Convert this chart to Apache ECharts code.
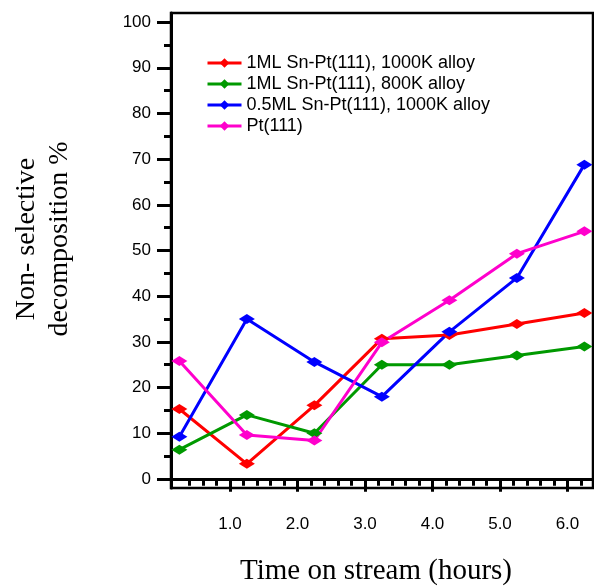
<!DOCTYPE html>
<html>
<head>
<meta charset="utf-8">
<script src="https://cdn.jsdelivr.net/npm/echarts@6/dist/echarts.min.js"></script>
<style>
  html, body { margin: 0; padding: 0; background: #fff; }
  #chart { width: 594px; height: 586px; }
</style>
</head>
<body>
<div id="chart"></div>
<script>
// time on stream (hours)
const hours = [0.25, 1.25, 2.25, 3.25, 4.25, 5.25, 6.25];
const sn1ml1000K = [15.3, 3.3, 16.1, 30.7, 31.5, 33.9, 36.3];
const sn1ml800K = [6.4, 14.0, 10.0, 25.0, 25.0, 27.0, 29.0];
const sn05ml1000K = [9.2, 35.0, 25.6, 18.0, 32.2, 44.0, 68.8];
const pt111 = [25.8, 9.6, 8.4, 29.9, 39.1, 49.3, 54.2];

const seriesNames = ["1ML Sn-Pt(111), 1000K alloy", "1ML Sn-Pt(111), 800K alloy", "0.5ML Sn-Pt(111), 1000K alloy", "Pt(111)"];
const seriesColors = ["#ff0000", "#009900", "#0000ff", "#ff00cc"];
const seriesData = [sn1ml1000K, sn1ml800K, sn05ml1000K, pt111];

const xMajorTicks = [1, 2, 3, 4, 5, 6];
const xMinorTicks = [0.4, 0.6, 0.8, 1.2, 1.4, 1.6, 1.8, 2.2, 2.4, 2.6, 2.8, 3.2, 3.4, 3.6, 3.8, 4.2, 4.4, 4.6, 4.8, 5.2, 5.4, 5.6, 5.8, 6.2];
const yMajorTicks = [0, 10, 20, 30, 40, 50, 60, 70, 80, 90, 100];
const yMinorTicks = [5, 15, 25, 35, 45, 55, 65, 75, 85, 95];

const chart = echarts.init(document.getElementById("chart"));

const xMin = 0.126, xMax = 6.378;
const yMin = -2, yMax = 102;

function makeSeries(i) {
  let points = [];
  for (let k = 0; k < hours.length; k++) {
    points.push([hours[k], seriesData[i][k]]);
  }
  return {
    name: seriesNames[i],
    type: "line",
    data: points,
    symbol: "diamond",
    symbolSize: [16, 10],
    lineStyle: { color: seriesColors[i], width: 3 },
    itemStyle: { color: seriesColors[i] },
    animation: false,
  };
}

let option = {
  backgroundColor: "#fff",
  grid: {
    left: 171, top: 13, right: 1, bottom: 98,
    show: true, borderColor: "#000", borderWidth: 2.5,
  },
  legend: {
    orient: "vertical",
    left: 201, top: 49,
    itemWidth: 34, itemHeight: 12, itemGap: 3,
    lineStyle: { width: 3 },
    textStyle: { fontFamily: "Liberation Sans", fontSize: 18, color: "#000", lineHeight: 17 },
    data: seriesNames,
  },
  graphic: [
    {
      type: "text",
      x: 43, y: 239,
      rotation: Math.PI / 2,
      style: {
        text: "Non- selective\ndecomposition %",
        font: "28px 'Liberation Serif'",
        fill: "#000",
        align: "center",
        verticalAlign: "middle",
        lineHeight: 33,
      },
    },
    {
      type: "text",
      x: 376, y: 571,
      style: {
        text: "Time on stream (hours)",
        font: "29px 'Liberation Serif'",
        fill: "#000",
        align: "center",
        verticalAlign: "middle",
      },
    },
  ],
  xAxis: [
    {
      type: "value", min: xMin, max: xMax,
      axisLine: { show: true, lineStyle: { color: "#000", width: 3 } },
      axisTick: { show: true, inside: false, length: 13, customValues: xMajorTicks, lineStyle: { color: "#000", width: 3 } },
      axisLabel: { show: true, customValues: xMajorTicks, margin: 28, fontFamily: "Liberation Sans", fontSize: 17, color: "#000", formatter: (v) => v.toFixed(1) },
      splitLine: { show: false },
    },
    {
      type: "value", min: xMin, max: xMax, position: "bottom",
      axisLine: { show: false },
      axisTick: { show: true, inside: false, length: 7, customValues: xMinorTicks, lineStyle: { color: "#000", width: 3 } },
      axisLabel: { show: false },
      splitLine: { show: false },
    },
  ],
  yAxis: [
    {
      type: "value", min: yMin, max: yMax,
      axisLine: { show: true, lineStyle: { color: "#000", width: 3 } },
      axisTick: { show: true, inside: false, length: 14, customValues: yMajorTicks, lineStyle: { color: "#000", width: 3 } },
      axisLabel: { show: true, customValues: yMajorTicks, margin: 20, fontFamily: "Liberation Sans", fontSize: 17, color: "#000" },
      splitLine: { show: false },
    },
    {
      type: "value", min: yMin, max: yMax, position: "left",
      axisLine: { show: false },
      axisTick: { show: true, inside: false, length: 7, customValues: yMinorTicks, lineStyle: { color: "#000", width: 3 } },
      axisLabel: { show: false },
      splitLine: { show: false },
    },
  ],
  series: [0, 1, 2, 3].map(makeSeries),
};

chart.setOption(option);
</script>
</body>
</html>
